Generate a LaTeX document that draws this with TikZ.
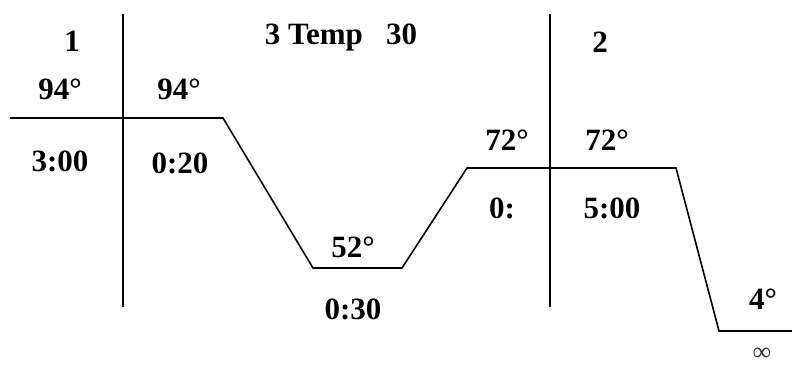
\documentclass[tikz,border=0pt]{standalone}
\usepackage{fontspec}
\setmainfont{Liberation Serif}
\usepackage{tikz}

\begin{document}
\begin{tikzpicture}[x=1pt,y=-1pt,
    lbl/.style={font=\fontsize{31}{36}\selectfont\bfseries, inner sep=0pt},
    curve/.style={line width=1.6pt},
    divider/.style={line width=1.6pt}]
                \useasboundingbox (0,0) rectangle (792,370);

                % Section labels
                \node[lbl] (sec1) at (72,41) {1};
                \node[lbl] (sec3) at (341,37) {3 Temp\ \ \ 30};
                \node[lbl] (sec2) at (600,42) {2};

                % Dividers
                \coordinate (d1top) at (123,14);
                \coordinate (d1bot) at (123,307);
                \coordinate (d2top) at (550,14);
                \coordinate (d2bot) at (550,307);
                \draw[divider] (d1top) -- (d1bot);
                \draw[divider] (d2top) -- (d2bot);

                % Temperature profile
                \coordinate (p0) at (10,118);
                \coordinate (p1) at (223,118);
                \coordinate (p2) at (313,268);
                \coordinate (p3) at (402,268);
                \coordinate (p4) at (467,168);
                \coordinate (p5) at (676,168);
                \coordinate (p6) at (719,331);
                \coordinate (p7) at (792,331);
                \draw[curve] (p0) -- (p1) -- (p2) -- (p3) -- (p4) -- (p5) -- (p6) -- (p7);

                % Temperatures
                \node[lbl] (t1) at (60,89) {94°};
                \node[lbl] (t2) at (179,89) {94°};
                \node[lbl] (t3) at (353,247) {52°};
                \node[lbl] (t4) at (507,140) {72°};
                \node[lbl] (t5) at (607,140) {72°};
                \node[lbl] (t6) at (763,299) {4°};

                % Times
                \node[lbl] (h1) at (60,161) {3:00};
                \node[lbl] (h2) at (180,163) {0:20};
                \node[lbl] (h3) at (353,309) {0:30};
                \node[lbl] (h4) at (502,208) {0:};
                \node[lbl] (h5) at (612,208) {5:00};
                \node[font=\fontsize{26}{30}\selectfont, inner sep=0pt, text=black!80] (h6) at (762,354) {∞};

            \end{tikzpicture}
\end{document}
